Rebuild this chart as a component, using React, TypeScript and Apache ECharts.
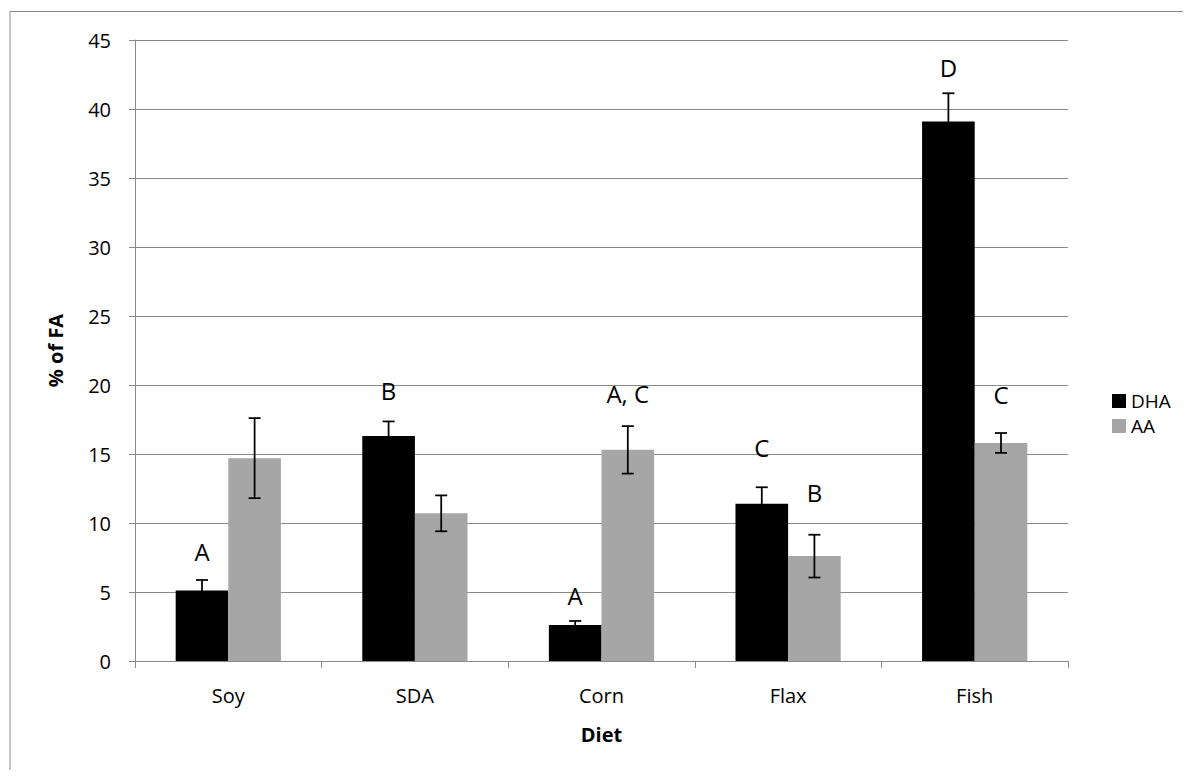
import React, { useEffect, useRef } from "react";
import * as echarts from "echarts";

const categories = ["Soy", "SDA", "Corn", "Flax", "Fish"];
const dhaValues = [5.1, 16.3, 2.6, 11.4, 39.1];
const aaValues = [14.7, 10.7, 15.3, 7.6, 15.8];
const dhaErrors = [0.77, 1.06, 0.3, 1.19, 2.04];
const aaErrors = [2.9, 1.3, 1.72, 1.55, 0.72];
const dhaLetters = ["A", "B", "A", "C", "D"];
const aaLetters = ["", "", "A, C", "B", "C"];
const dhaLetterY = [7.97, 19.57, 4.78, 15.46, 43.0];
const aaLetterY = [0, 0, 19.42, 12.2, 19.3];
const yTicks = [0, 5, 10, 15, 20, 25, 30, 35, 40, 45];

const FONT = "'Open Sans', 'DejaVu Sans', sans-serif";
const BAR_FRAC = 0.282;
const GRID_COLOR = "#8a8a8a";

export default function App() {
  const ref = useRef<HTMLDivElement>(null);

  useEffect(() => {
    if (!ref.current) return;
    const chart = echarts.init(ref.current, undefined, { renderer: "svg" });

    const errorSeries = (values: number[], errs: number[], side: number, name: string) => ({
      type: "custom",
      name: name + " err",
      z: 10,
      silent: true,
      encode: { x: 0, y: 1 },
      data: values.map((v, i) => [i, v, errs[i]]),
      renderItem: (params: any, api: any) => {
        const idx = api.value(0);
        const v = api.value(1);
        const e = api.value(2);
        const band = api.size([1, 0])[0];
        const bw = band * BAR_FRAC;
        const c = api.coord([idx, v]);
        const x = c[0] + (side * bw) / 2;
        const top = api.coord([idx, v + e])[1];
        const bot = api.coord([idx, v - e])[1];
        const cap = 6;
        const st = { stroke: "#000", lineWidth: 1.75 };
        return {
          type: "group",
          children: [
            { type: "line", shape: { x1: x, y1: top, x2: x, y2: bot }, style: st },
            { type: "line", shape: { x1: x - cap, y1: top, x2: x + cap, y2: top }, style: st },
            { type: "line", shape: { x1: x - cap, y1: bot, x2: x + cap, y2: bot }, style: st },
          ],
        };
      },
    });

    const letterSeries = (letters: string[], ys: number[], side: number, name: string) => ({
      type: "custom",
      name: name + " letters",
      z: 11,
      silent: true,
      encode: { x: 0, y: 1 },
      data: letters.map((l, i) => [i, ys[i], l]),
      renderItem: (params: any, api: any) => {
        const idx = params.dataIndex;
        const text = letters[idx];
        if (!text) return null;
        const band = api.size([1, 0])[0];
        const bw = band * BAR_FRAC;
        const c = api.coord([idx, ys[idx]]);
        return {
          type: "text",
          x: c[0] + (side * bw) / 2,
          y: c[1],
          style: {
            text,
            fill: "#000",
            fontSize: 24,
            fontFamily: FONT,
            align: "center",
            verticalAlign: "middle",
          },
        };
      },
    });

    chart.setOption({
      animation: false,
      backgroundColor: "#fff",
      textStyle: { fontFamily: FONT },
      graphic: [
        { type: "line", shape: { x1: 2, y1: 3.5, x2: 2, y2: 770 }, style: { stroke: "#888", lineWidth: 1 } },
        { type: "line", shape: { x1: 2, y1: 3.5, x2: 1180, y2: 3.5 }, style: { stroke: "#888", lineWidth: 1 } },
      ],
      grid: { left: 127, top: 32, width: 933, height: 621, containLabel: false },
      legend: {
        orient: "vertical",
        left: 1099,
        top: 378,
        itemWidth: 14,
        itemHeight: 14,
        itemGap: 5,
        icon: "rect",
        data: ["DHA", "AA"],
        textStyle: { fontSize: 19, fontFamily: FONT, color: "#000", lineHeight: 20 },
      },
      xAxis: {
        type: "category",
        data: categories,
        name: "Diet",
        nameLocation: "middle",
        nameGap: 63,
        nameTextStyle: { fontSize: 20, fontWeight: "bold", color: "#000", fontFamily: FONT },
        axisLine: { lineStyle: { color: GRID_COLOR, width: 1 } },
        axisTick: { show: true, length: 7, lineStyle: { color: GRID_COLOR } },
        axisLabel: { fontSize: 20, color: "#000", margin: 24, fontFamily: FONT },
      },
      yAxis: {
        type: "value",
        min: yTicks[0],
        max: yTicks[yTicks.length - 1],
        interval: 5,
        name: "% of FA",
        nameLocation: "middle",
        nameGap: 70,
        nameTextStyle: { fontSize: 20, fontWeight: "bold", color: "#000", fontFamily: FONT },
        axisLine: { show: true, lineStyle: { color: GRID_COLOR, width: 1 } },
        axisTick: { show: true, length: 6, lineStyle: { color: GRID_COLOR } },
        axisLabel: { fontSize: 20, color: "#000", margin: 24, fontFamily: FONT },
        splitLine: { show: true, lineStyle: { color: GRID_COLOR, width: 1 } },
      },
      series: [
        {
          name: "DHA",
          type: "bar",
          data: dhaValues,
          barWidth: BAR_FRAC * 100 + "%",
          barGap: "0%",
          itemStyle: { color: "#000000" },
        },
        {
          name: "AA",
          type: "bar",
          data: aaValues,
          barWidth: BAR_FRAC * 100 + "%",
          barGap: "0%",
          itemStyle: { color: "#a6a6a6" },
        },
        errorSeries(dhaValues, dhaErrors, -1, "DHA"),
        errorSeries(aaValues, aaErrors, 1, "AA"),
        letterSeries(dhaLetters, dhaLetterY, -1, "DHA"),
        letterSeries(aaLetters, aaLetterY, 1, "AA"),
      ],
    });

    return () => chart.dispose();
  }, []);

  return <div ref={ref} style={{ width: 1175, height: 762 }} />;
}
